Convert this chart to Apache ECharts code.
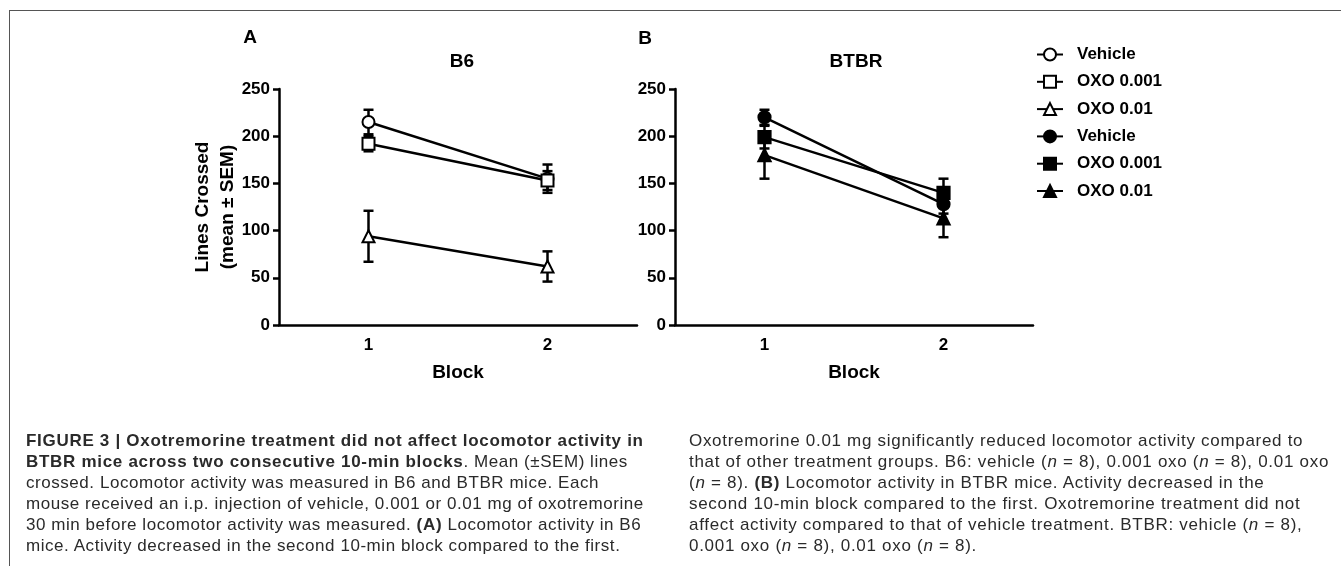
<!DOCTYPE html>
<html>
<head>
<meta charset="utf-8">
<script src="https://cdn.jsdelivr.net/npm/echarts@6/dist/echarts.min.js"></script>
<style>
  html, body { margin: 0; padding: 0; background: #fff; }
  #wrap { position: relative; width: 1341px; height: 566px; overflow: hidden; }
  #chartDiv { position: absolute; left: 0; top: 0; width: 1341px; height: 566px; }
  .rule-top { position: absolute; left: 9px; top: 10px; width: 1332px; border-top: 1.5px solid #555; }
  .rule-left { position: absolute; left: 9px; top: 10px; height: 556px; border-left: 1.5px solid #555; }
  .caption { position: absolute; top: 430px; font-family: "Liberation Sans", Arial, sans-serif;
    font-size: 17px; letter-spacing: 0.55px; line-height: 21px; color: #2a2a2a; white-space: nowrap; }
  .caption b { font-weight: bold; letter-spacing: 0.7px; }
  .caption.right { letter-spacing: 0.7px; }
</style>
</head>
<body>
<div id="wrap">
  <div class="rule-top"></div>
  <div class="rule-left"></div>
  <div id="chartDiv"></div>
  <div class="caption" style="left:26px">
    <b>FIGURE 3 | Oxotremorine treatment did not affect locomotor activity in</b><br>
    <b>BTBR mice across two consecutive 10-min blocks</b>. Mean (±SEM) lines<br>
    crossed. Locomotor activity was measured in B6 and BTBR mice. Each<br>
    mouse received an i.p. injection of vehicle, 0.001 or 0.01 mg of oxotremorine<br>
    30 min before locomotor activity was measured. <b>(A)</b> Locomotor activity in B6<br>
    mice. Activity decreased in the second 10-min block compared to the first.
  </div>
  <div class="caption right" style="left:689px">
    Oxotremorine 0.01 mg significantly reduced locomotor activity compared to<br>
    that of other treatment groups. B6: vehicle (<i>n</i> = 8), 0.001 oxo (<i>n</i> = 8), 0.01 oxo<br>
    (<i>n</i> = 8). <b>(B)</b> Locomotor activity in BTBR mice. Activity decreased in the<br>
    second 10-min block compared to the first. Oxotremorine treatment did not<br>
    affect activity compared to that of vehicle treatment. BTBR: vehicle (<i>n</i> = 8),<br>
    0.001 oxo (<i>n</i> = 8), 0.01 oxo (<i>n</i> = 8).
  </div>
</div>
<script>
// blocks on the x axis
var blocks = ['1', '2'];
var treatments = ['Vehicle', 'OXO 0.001', 'OXO 0.01'];

// B6 means and SEM
var b6Vehicle = [215, 155];
var b6VehicleSem = [13, 15];
var b6Oxo001 = [192, 153];
var b6Oxo001Sem = [8, 10];
var b6Oxo01 = [94, 62];
var b6Oxo01Sem = [27, 16];

// BTBR means and SEM
var btbrVehicle = [220, 128];
var btbrVehicleSem = [8, 10];
var btbrOxo001 = [199, 140];
var btbrOxo001Sem = [12, 15];
var btbrOxo01 = [180, 113];
var btbrOxo01Sem = [25, 20];

var yTicks = [0, 50, 100, 150, 200, 250];

var FONT = '"Liberation Sans", Arial, sans-serif';

function errorBar(params, api) {
  var lo = api.coord([api.value(0), api.value(1)]);
  var hi = api.coord([api.value(0), api.value(2)]);
  var w = 5;
  var st = { stroke: '#000', lineWidth: 2.5 };
  return {
    type: 'group',
    children: [
      { type: 'line', shape: { x1: lo[0], y1: lo[1], x2: hi[0], y2: hi[1] }, style: st },
      { type: 'line', shape: { x1: lo[0] - w, y1: lo[1], x2: lo[0] + w, y2: lo[1] }, style: st },
      { type: 'line', shape: { x1: hi[0] - w, y1: hi[1], x2: hi[0] + w, y2: hi[1] }, style: st }
    ]
  };
}

function errData(mean, sem) {
  return mean.map(function (m, i) { return [i, m - sem[i], m + sem[i]]; });
}

var seriesList = [];
function addGroup(idx, prefix, name, mean, sem, symbol) {
  seriesList.push({
    type: 'custom', xAxisIndex: idx, yAxisIndex: idx, renderItem: errorBar,
    data: errData(mean, sem), z: 3, silent: true
  });
  seriesList.push({
    name: prefix + ' ' + name, type: 'line', xAxisIndex: idx, yAxisIndex: idx,
    data: mean, symbol: symbol, symbolSize: 12, z: 4,
    lineStyle: { color: '#000', width: 2.5 },
    itemStyle: { color: '#000', borderColor: '#000', borderWidth: 2.2 }
  });
}
addGroup(0, 'B6', treatments[0], b6Vehicle, b6VehicleSem, 'emptyCircle');
addGroup(0, 'B6', treatments[1], b6Oxo001, b6Oxo001Sem, 'emptyRect');
addGroup(0, 'B6', treatments[2], b6Oxo01, b6Oxo01Sem, 'emptyTriangle');
addGroup(1, 'BTBR', treatments[0], btbrVehicle, btbrVehicleSem, 'circle');
addGroup(1, 'BTBR', treatments[1], btbrOxo001, btbrOxo001Sem, 'rect');
addGroup(1, 'BTBR', treatments[2], btbrOxo01, btbrOxo01Sem, 'triangle');

function xAxisFor(i) {
  return {
    gridIndex: i, type: 'category', data: blocks, boundaryGap: true,
    axisLine: { lineStyle: { color: '#000', width: 2.5 } },
    axisTick: { alignWithLabel: true, length: 6, lineStyle: { color: '#000', width: 2.5 } },
    axisLabel: { color: '#000', fontFamily: FONT, fontWeight: 'bold', fontSize: 17, margin: 12 },
    name: 'Block', nameLocation: 'middle', nameGap: 38,
    nameTextStyle: { color: '#000', fontFamily: FONT, fontWeight: 'bold', fontSize: 19 }
  };
}
function yAxisFor(i) {
  var ax = {
    gridIndex: i, type: 'value', min: 0, max: 250, interval: 50,
    splitLine: { show: false },
    axisLine: { show: true, lineStyle: { color: '#000', width: 2.5 } },
    axisTick: { show: true, length: 6, lineStyle: { color: '#000', width: 2.5 } },
    axisLabel: { color: '#000', fontFamily: FONT, fontWeight: 'bold', fontSize: 17, margin: 9,
      customValues: yTicks }
  };
  if (i === 0) {
    ax.name = 'Lines Crossed\n(mean ± SEM)';
    ax.nameLocation = 'middle';
    ax.nameGap = 39;
    ax.nameMoveOverlap = false;
    ax.nameTextStyle = { color: '#000', fontFamily: FONT, fontWeight: 'bold', fontSize: 19, lineHeight: 25 };
  }
  return ax;
}

function label(text, x, y) {
  return {
    type: 'text', x: x, y: y,
    style: { text: text, fill: '#000', font: 'bold 19px ' + FONT, textAlign: 'center', textVerticalAlign: 'middle' }
  };
}

var chart = echarts.init(document.getElementById('chartDiv'), null, { renderer: 'canvas' });
chart.setOption({
  animation: false,
  backgroundColor: 'transparent',
  grid: [
    { left: 279, top: 89, width: 358, height: 236 },
    { left: 675, top: 89, width: 358, height: 236 }
  ],
  xAxis: [xAxisFor(0), xAxisFor(1)],
  yAxis: [yAxisFor(0), yAxisFor(1)],
  legend: {
    orient: 'vertical', left: 1031, top: 41, itemWidth: 26, itemHeight: 15, itemGap: 10.3,
    formatter: function (n) { return n.replace(/^(B6|BTBR) /, ''); },
    textStyle: { color: '#000', fontFamily: FONT, fontWeight: 'bold', fontSize: 17, lineHeight: 17, padding: [0, 0, 0, 9] },
    selectedMode: false
  },
  graphic: [
    label('A', 250, 38),
    label('B6', 462, 62),
    label('B', 645, 39),
    label('BTBR', 856, 62)
  ],
  series: seriesList
});
window.addEventListener('resize', function () { chart.resize(); });
</script>
</body>
</html>
